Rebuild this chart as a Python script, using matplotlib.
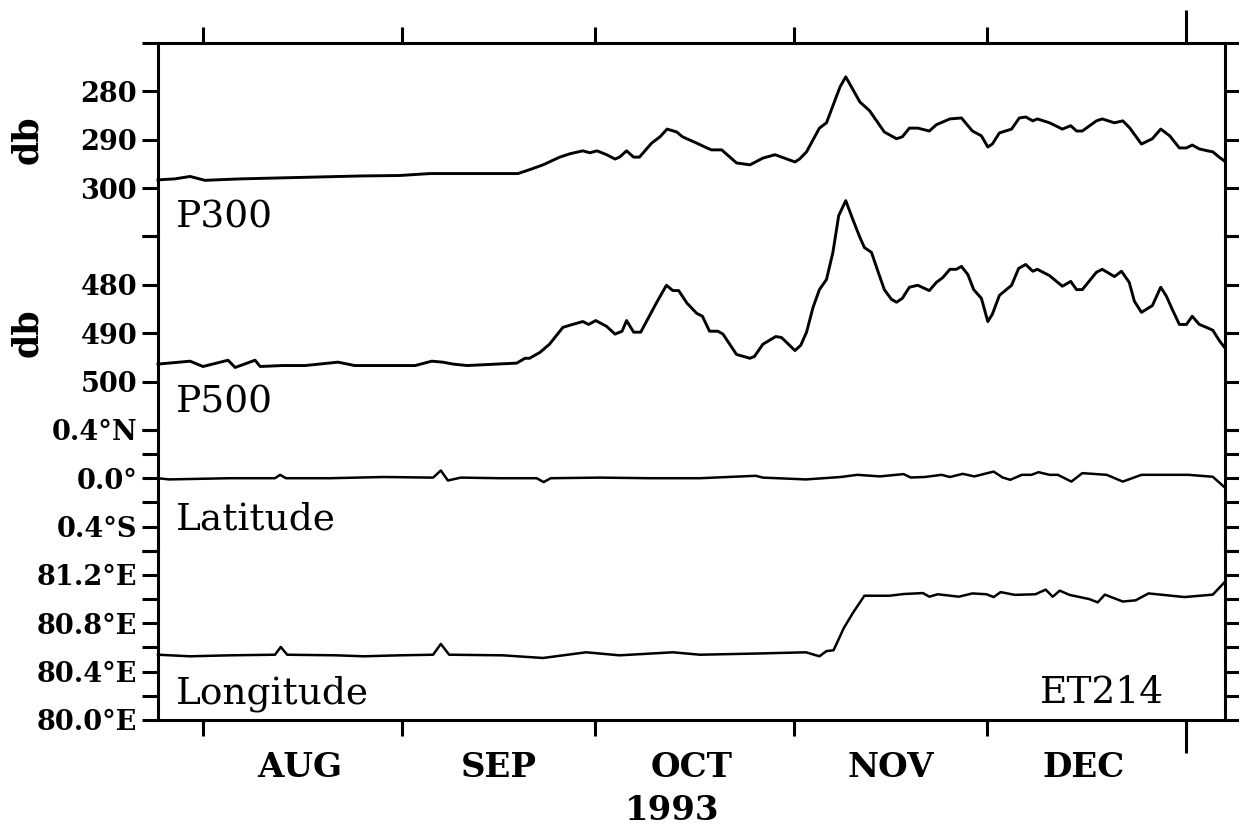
import pandas as pd
import matplotlib
matplotlib.use("Agg")
import matplotlib.pyplot as plt

# days since 1 Aug 1993
p300_day = [-7.0, -4.4, -2.0, 0.3, 3.9, 5.8, 12.0, 18.2, 24.4, 30.6, 35.3, 49.0, 50.8, 52.9,
            55.5, 57.1, 59.1, 60.2, 61.3, 62.8, 64.1, 64.8, 65.9, 67.0, 67.9, 69.8, 71.1,
            72.2, 73.7, 74.6, 76.8, 78.4, 79.1, 80.7, 83.0, 85.1, 87.1, 89.0, 92.1, 92.8,
            93.9, 95.9, 97.0, 99.1, 100.0, 102.2, 103.7, 106.0, 107.9, 108.8, 109.9, 111.2,
            113.0, 114.1, 116.2, 118.0, 119.7, 121.1, 122.1, 122.8, 123.9, 125.8, 127.0,
            128.0, 129.1, 129.8, 131.7, 133.7, 135.0, 135.9, 136.8, 139.0, 139.9, 141.8,
            143.1, 144.2, 146.0, 147.7, 149.0, 150.4, 151.9, 153.0, 153.9, 155.0, 156.3,
            157.1, 158.1, 158.9]
p300_db = [298.3, 298.1, 297.6, 298.4, 298.2, 298.1, 297.9, 297.7, 297.5, 297.4, 297.0, 297.0,
           296.2, 295.2, 293.6, 292.9, 292.3, 292.7, 292.3, 293.1, 294.0, 293.6, 292.3, 293.6,
           293.6, 290.7, 289.4, 287.8, 288.4, 289.4, 290.7, 291.7, 292.1, 292.1, 294.8, 295.2,
           293.8, 293.1, 294.6, 294.0, 292.5, 287.6, 286.5, 279.1, 277.0, 282.2, 284.0, 288.4,
           289.8, 289.4, 287.6, 287.6, 288.2, 286.9, 285.7, 285.5, 288.2, 289.2, 291.5, 290.9,
           288.6, 287.8, 285.5, 285.3, 286.1, 285.7, 286.5, 287.8, 287.1, 288.2, 288.2, 286.1,
           285.7, 286.5, 286.1, 287.6, 290.9, 289.8, 287.8, 289.2, 291.7, 291.7, 291.1, 291.9,
           292.3, 292.5, 293.6, 294.4]

p500_day = [-7.0, -2.0, 0.0, 3.9, 5.0, 8.1, 8.9, 12.3, 15.9, 21.0, 23.6, 33.0, 35.6, 37.3, 38.9,
            41.1, 45.7, 48.8, 50.1, 50.8, 52.4, 53.9, 56.0, 57.5, 59.1, 60.0, 61.1, 62.8, 64.1,
            65.2, 65.9, 67.0, 68.1, 70.6, 72.1, 73.1, 74.0, 75.3, 76.8, 77.7, 78.8, 80.1, 80.9,
            83.0, 85.1, 85.8, 87.1, 89.1, 90.0, 92.1, 93.0, 93.9, 94.9, 95.9, 97.0, 98.0, 98.9,
            100.0, 101.1, 102.2, 102.9, 104.0, 105.0, 106.0, 107.1, 107.9, 108.8, 109.9, 111.2,
            113.0, 114.1, 115.1, 116.2, 117.2, 118.0, 119.0, 119.9, 121.1, 122.1, 122.8, 123.9,
            125.8, 126.9, 128.0, 129.1, 129.8, 131.7, 133.7, 135.0, 135.9, 136.8, 139.0, 139.9,
            141.8, 142.9, 144.1, 144.9, 146.0, 147.7, 149.0, 149.9, 150.8, 151.9, 153.0, 153.9,
            155.0, 156.1, 157.1, 158.1, 158.9]
p500_db = [496.4, 495.8, 496.9, 495.6, 497.1, 495.6, 496.9, 496.7, 496.7, 496.0, 496.7, 496.7,
           495.8, 496.0, 496.4, 496.7, 496.4, 496.2, 495.2, 495.2, 494.0, 492.3, 488.8, 488.2,
           487.6, 488.2, 487.4, 488.6, 490.2, 489.6, 487.4, 489.8, 489.8, 483.6, 480.1, 481.2,
           481.2, 483.8, 485.9, 486.5, 489.6, 489.6, 490.2, 494.4, 495.2, 494.8, 492.3, 490.7,
           490.9, 493.6, 492.5, 489.8, 484.7, 481.0, 478.9, 473.3, 465.7, 462.6, 466.5, 470.2,
           472.3, 473.3, 477.2, 481.0, 483.0, 483.6, 482.8, 480.5, 480.1, 481.2, 479.5, 478.5,
           476.8, 476.8, 476.2, 477.9, 481.0, 482.8, 487.6, 486.1, 482.2, 480.1, 476.6, 475.8,
           477.2, 476.8, 478.1, 480.3, 479.3, 481.0, 481.0, 477.4, 476.8, 478.3, 477.2, 479.5,
           483.4, 485.7, 484.3, 480.5, 482.4, 485.1, 488.2, 488.2, 486.5, 488.2, 488.8, 489.4,
           491.5, 492.9]

lat_day = [-7.0, -5.3, 4.2, 11.2, 12.0, 12.9, 19.7, 28.1, 35.8, 37.0, 38.1, 40.1, 46.2, 51.9,
           53.0, 54.1, 61.7, 69.5, 77.3, 86.0, 87.1, 93.8, 99.2, 101.8, 105.3, 109.0, 110.1,
           112.3, 114.9, 116.2, 118.2, 120.0, 123.0, 124.4, 125.6, 127.4, 128.9, 130.0, 131.7,
           133.0, 135.1, 136.8, 140.6, 143.1, 146.0, 153.3, 157.1, 158.9]
lat_deg = [0.0, -0.01, 0.0, 0.0, 0.028, 0.0, 0.0, 0.01, 0.005, 0.064, -0.019, 0.005, 0.0, 0.0,
           -0.032, 0.0, 0.005, 0.0, 0.0, 0.02, 0.005, -0.01, 0.01, 0.028, 0.015, 0.034, 0.006,
           0.01, 0.028, 0.01, 0.036, 0.015, 0.055, 0.006, -0.013, 0.028, 0.028, 0.05, 0.028,
           0.028, -0.028, 0.042, 0.028, -0.028, 0.028, 0.028, 0.012, -0.073]

lon_day = [-7.0, -2.0, 4.2, 11.2, 12.1, 13.1, 20.7, 25.0, 30.6, 35.8, 37.0, 38.3, 46.6, 52.9,
           59.6, 64.8, 73.1, 77.3, 86.3, 93.8, 95.9, 97.0, 98.1, 99.7, 101.1, 102.9, 106.8,
           109.0, 112.0, 113.0, 114.3, 117.6, 119.7, 121.9, 123.0, 124.1, 126.3, 129.5, 131.1,
           132.2, 133.3, 134.8, 137.9, 139.2, 140.3, 143.1, 145.1, 147.1, 152.7, 157.1, 158.9]
lon_deg = [80.54, 80.527, 80.535, 80.54, 80.604, 80.54, 80.535, 80.527, 80.535, 80.54, 80.629,
           80.54, 80.535, 80.513, 80.56, 80.535, 80.56, 80.54, 80.55, 80.56, 80.527, 80.57,
           80.577, 80.761, 80.885, 81.028, 81.028, 81.042, 81.05, 81.02, 81.04, 81.02, 81.047,
           81.04, 81.017, 81.058, 81.035, 81.04, 81.078, 81.02, 81.07, 81.035, 81.0, 80.973,
           81.037, 80.98, 80.99, 81.047, 81.017, 81.037, 81.138]

months = ["AUG", "SEP", "OCT", "NOV", "DEC"]
year_label = "1993"
buoy = "ET214"

start = pd.Timestamp("1993-08-01")


def to_dates(days):
    return start + pd.to_timedelta(days, unit="D")


plt.rcParams["font.family"] = ["DejaVu Serif"]
LW = 2.2

fig = plt.figure(figsize=(12.39, 8.32), dpi=100)
gs = fig.add_gridspec(4, 1, height_ratios=[40, 40, 25, 35], hspace=0,
                      left=158 / 1239, right=1225 / 1239, top=1 - 43 / 832, bottom=1 - 720 / 832)
ax1 = fig.add_subplot(gs[0])
ax2 = fig.add_subplot(gs[1], sharex=ax1)
ax3 = fig.add_subplot(gs[2], sharex=ax1)
ax4 = fig.add_subplot(gs[3], sharex=ax1)
axes = [ax1, ax2, ax3, ax4]

ax1.plot(to_dates(p300_day), p300_db, color="black", lw=2.1, clip_on=False)
ax2.plot(to_dates(p500_day), p500_db, color="black", lw=2.1, clip_on=False)
ax3.plot(to_dates(lat_day), lat_deg, color="black", lw=1.8, clip_on=False)
ax4.plot(to_dates(lon_day), lon_deg, color="black", lw=1.8, clip_on=False)

# y axes
ax1.set_ylim(310, 270)
ax1.set_yticks([270, 280, 290, 300, 310], ["", "280", "290", "300", ""], fontweight="bold")
ax2.set_ylim(510, 470)
ax2.set_yticks([470, 480, 490, 500, 510], ["", "480", "490", "500", ""], fontweight="bold")
ax3.set_ylim(-0.6, 0.4)
ax3.set_yticks([0.4, 0.0, -0.4], ["0.4°N", "0.0°", "0.4°S"], fontweight="bold")
ax3.set_yticks([0.2, -0.2, -0.6], minor=True)
ax4.set_ylim(80.0, 81.4)
ax4.set_yticks([80.0, 80.4, 80.8, 81.2], ["80.0°E", "80.4°E", "80.8°E", "81.2°E"],
               fontweight="bold")
ax4.set_yticks([80.2, 80.6, 81.0, 81.4], minor=True)

for ax in axes:
    ax.tick_params(axis="y", which="both", direction="out", length=11.5, width=LW,
                   left=True, right=True, labelleft=True, labelright=False,
                   labelsize=19.5, pad=3.5)
    for side in ["left", "right", "top", "bottom"]:
        ax.spines[side].set_linewidth(LW)
    ax.spines["top"].set_visible(ax is ax1)
    ax.spines["bottom"].set_visible(ax is ax4)

# x axis: month boundaries as ticks, names at mid-month
month_starts = pd.date_range("1993-08-01", "1994-01-01", freq="MS")
mid_month = month_starts[:-1] + pd.Timedelta(days=15)
ax4.set_xticks(month_starts)
ax4.set_xticks(mid_month, months, minor=True, fontweight="bold")
ax1.set_xlim(to_dates(-7.0), to_dates(159.0))

for ax in axes:
    ax.tick_params(axis="x", which="both", top=False, bottom=False,
                   labeltop=False, labelbottom=False)
ax1.tick_params(axis="x", which="major", top=True, direction="out", length=11.5, width=LW)
ax4.tick_params(axis="x", which="major", bottom=True, direction="out", length=11.5, width=LW)
ax4.tick_params(axis="x", which="minor", bottom=True, length=0, labelbottom=True,
                labelsize=24.5, pad=22)
# year boundary tick is drawn longer
ax1.xaxis.get_major_ticks()[-1].tick2line.set_markersize(24)
ax4.xaxis.get_major_ticks()[-1].tick1line.set_markersize(24)

fig.text(672 / 1239, 1 - 811 / 832, year_label, ha="center", va="center",
         fontsize=24.5, fontweight="bold")

# panel labels
for ax in (ax1, ax2):
    ax.text(-0.1228, 0.5, "db", transform=ax.transAxes, rotation=90, ha="center",
            va="center", fontsize=25, fontweight="bold")
ax1.text(0.0169, 0.046, "P300", transform=ax1.transAxes, fontsize=27, va="baseline")
ax2.text(0.0169, 0.088, "P500", transform=ax2.transAxes, fontsize=27, va="baseline")
ax3.text(0.0169, 0.174, "Latitude", transform=ax3.transAxes, fontsize=27, va="baseline")
ax4.text(0.0169, 0.10, "Longitude", transform=ax4.transAxes, fontsize=27, va="baseline")
ax4.text(0.8266, 0.10, buoy, transform=ax4.transAxes, fontsize=27, va="baseline")

fig.savefig("out.png", dpi=100)
